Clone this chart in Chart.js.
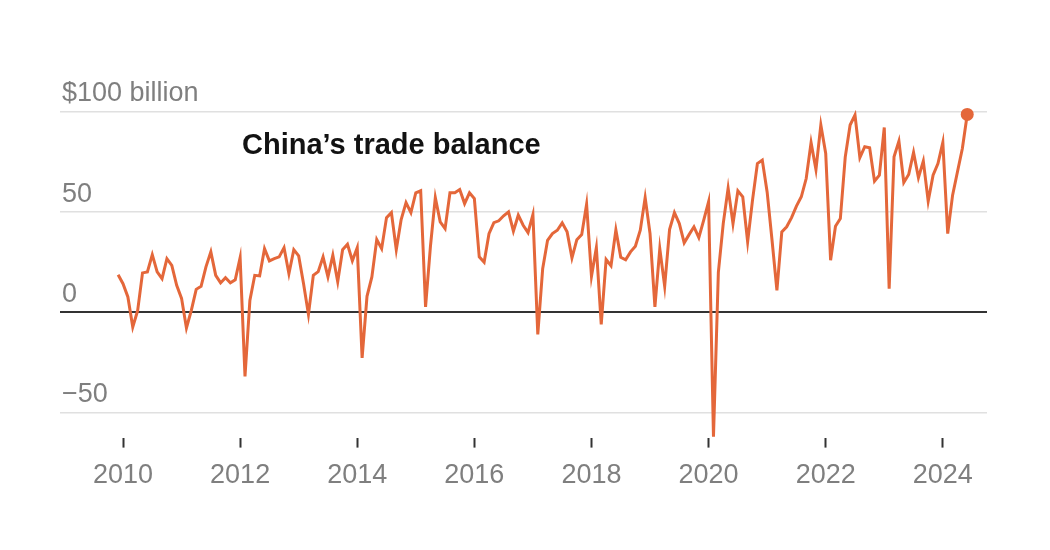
<!DOCTYPE html>
<html>
<head>
<meta charset="utf-8">
<script src="https://cdn.jsdelivr.net/npm/chart.js@4.4.1/dist/chart.umd.min.js"></script>
<style>
    html, body { margin: 0; padding: 0; background: #fff; }
    #wrap { width: 1050px; height: 550px; position: relative; }
</style>
</head>
<body>
<div id="wrap"><canvas id="tradeChart"></canvas></div>
<script>
// monthly trade balance, billions of dollars
let dec2009 = [18.8];
let bal2010 = [14.3, 7.7, -7.3, 0.8, 19.7, 20.2, 28.8, 20.2, 16.8, 26.8, 23.5, 13.5];
let bal2011 = [7, -7.8, 1, 11.5, 13, 22.7, 30.2, 18.5, 14.7, 17.3, 14.8, 16.3];
let bal2012 = [27.3, -32, 6, 18.5, 18.2, 31.8, 25.7, 26.8, 27.7, 32.3, 19.3, 31.3];
let bal2013 = [28.2, 14.3, -1, 18.5, 20.3, 27.7, 17.7, 28.5, 15.3, 31.3, 34, 25.8];
let bal2014 = [32.3, -22.7, 8, 17.7, 36.3, 31.8, 47.3, 49.8, 31.3, 46.3, 54.8, 49.8];
let bal2015 = [59.7, 60.7, 2.7, 33, 57.3, 45.2, 41.8, 59.7, 59.7, 61.3, 54.3, 59.7];
let bal2016 = [56.8, 27.7, 25, 39.3, 44.8, 45.7, 48.2, 50.2, 40.5, 48.5, 43.5, 39.8];
let bal2017 = [48.8, -11, 21.8, 36, 39.3, 41, 44.7, 40.2, 27.2, 36.3, 38.8, 54];
let bal2018 = [18, 32.3, -6, 26.4, 23.3, 41.2, 27.5, 26.2, 30.2, 33, 41, 57.3];
let bal2019 = [39.3, 2.7, 31.8, 13, 41.3, 49.8, 44.3, 34.7, 38.8, 42.7, 37.3, 46];
let bal2020 = [55.2, -62, 20, 44.3, 62, 44.3, 60.7, 57.7, 35.2, 56, 74.3, 76];
let bal2021 = [60, 36, 11, 40.2, 42.7, 47.3, 53, 57.7, 66.8, 84.7, 71.3, 93.5];
let bal2022 = [79.3, 26, 43, 46.8, 77.5, 93.5, 98.5, 77.2, 82.7, 82.2, 65.5, 68.5];
let bal2023 = [92.3, 11.8, 77.7, 85.5, 64.8, 68.8, 79.8, 67.2, 75.5, 55.5, 68.5, 74.3];
let bal2024 = [84.8, 39.3, 58.5, 70.2, 81.8, 98.8];

let xTickYears = [2010, 2012, 2014, 2016, 2018, 2020, 2022, 2024];
let yTickValues = [-50, 0, 50, 100];
let yTickLabels = ["\u221250", "0", "50", "$100 billion"];

document.addEventListener("DOMContentLoaded", function () {
    let years = [bal2010, bal2011, bal2012, bal2013, bal2014, bal2015, bal2016,
                 bal2017, bal2018, bal2019, bal2020, bal2021, bal2022, bal2023, bal2024];

    // x = months since Jan 2010
    let points = [{ x: -1, y: dec2009[0] }];
    years.forEach((arr, i) => {
        arr.forEach((v, j) => points.push({ x: i * 12 + j, y: v }));
    });
    let lastIndex = points.length - 1;

    let lineColor = "#e4673a";
    let labelFont = { family: "'Liberation Sans', Arial, sans-serif", size: 27 };

    const titlePlugin = {
        id: "chartTitle",
        afterDraw(chart) {
            let ctx = chart.ctx;
            ctx.save();
            ctx.font = "bold 29px 'Liberation Sans', Arial, sans-serif";
            ctx.fillStyle = "#121212";
            ctx.textBaseline = "middle";
            ctx.textAlign = "left";
            ctx.fillText("China\u2019s trade balance", chart.chartArea.left + 182, 146);
            ctx.restore();
        }
    };

    let ctx = document.getElementById("tradeChart").getContext("2d");
    window.myChart = new Chart(ctx, {
        type: "line",
        data: {
            datasets: [{
                data: points,
                borderColor: lineColor,
                backgroundColor: lineColor,
                borderWidth: 3,
                tension: 0,
                clip: false,
                pointRadius: c => c.dataIndex === lastIndex ? 6.5 : 0,
                pointBorderWidth: 0,
                pointBackgroundColor: lineColor
            }]
        },
        options: {
            responsive: true,
            maintainAspectRatio: false,
            animation: false,
            layout: { padding: { left: 60, right: 63, top: 104, bottom: 46 } },
            plugins: {
                legend: { display: false },
                tooltip: { enabled: false }
            },
            scales: {
                x: {
                    type: "linear",
                    min: -12.91,
                    max: 177.05,
                    border: { display: false },
                    grid: {
                        drawOnChartArea: false,
                        drawTicks: true,
                        tickLength: 10,
                        tickColor: "#333",
                        tickWidth: 2
                    },
                    afterBuildTicks: function (scale) {
                        scale.ticks = xTickYears.map(y => ({ value: (y - 2010) * 12 }));
                    },
                    ticks: {
                        autoSkip: false,
                        maxRotation: 0,
                        padding: 12,
                        color: "#7f7f7f",
                        font: labelFont,
                        callback: function (value) { return String(2010 + value / 12); }
                    }
                },
                y: {
                    min: -62.5,
                    max: 104,
                    border: { display: false },
                    grid: {
                        drawTicks: false,
                        color: c => c.tick.value === 0 ? "#333" : "#e0e0e0",
                        lineWidth: c => c.tick.value === 0 ? 2 : 1.5
                    },
                    afterBuildTicks: function (scale) {
                        scale.ticks = yTickValues.map(v => ({ value: v }));
                    },
                    afterFit: function (scale) { scale.width = 0; },
                    ticks: {
                        mirror: true,
                        padding: 2,
                        labelOffset: -18,
                        color: "#7f7f7f",
                        font: labelFont,
                        callback: function (value) {
                            return yTickLabels[yTickValues.indexOf(value)];
                        }
                    }
                }
            }
        },
        plugins: [titlePlugin]
    });
});
</script>
</body>
</html>
